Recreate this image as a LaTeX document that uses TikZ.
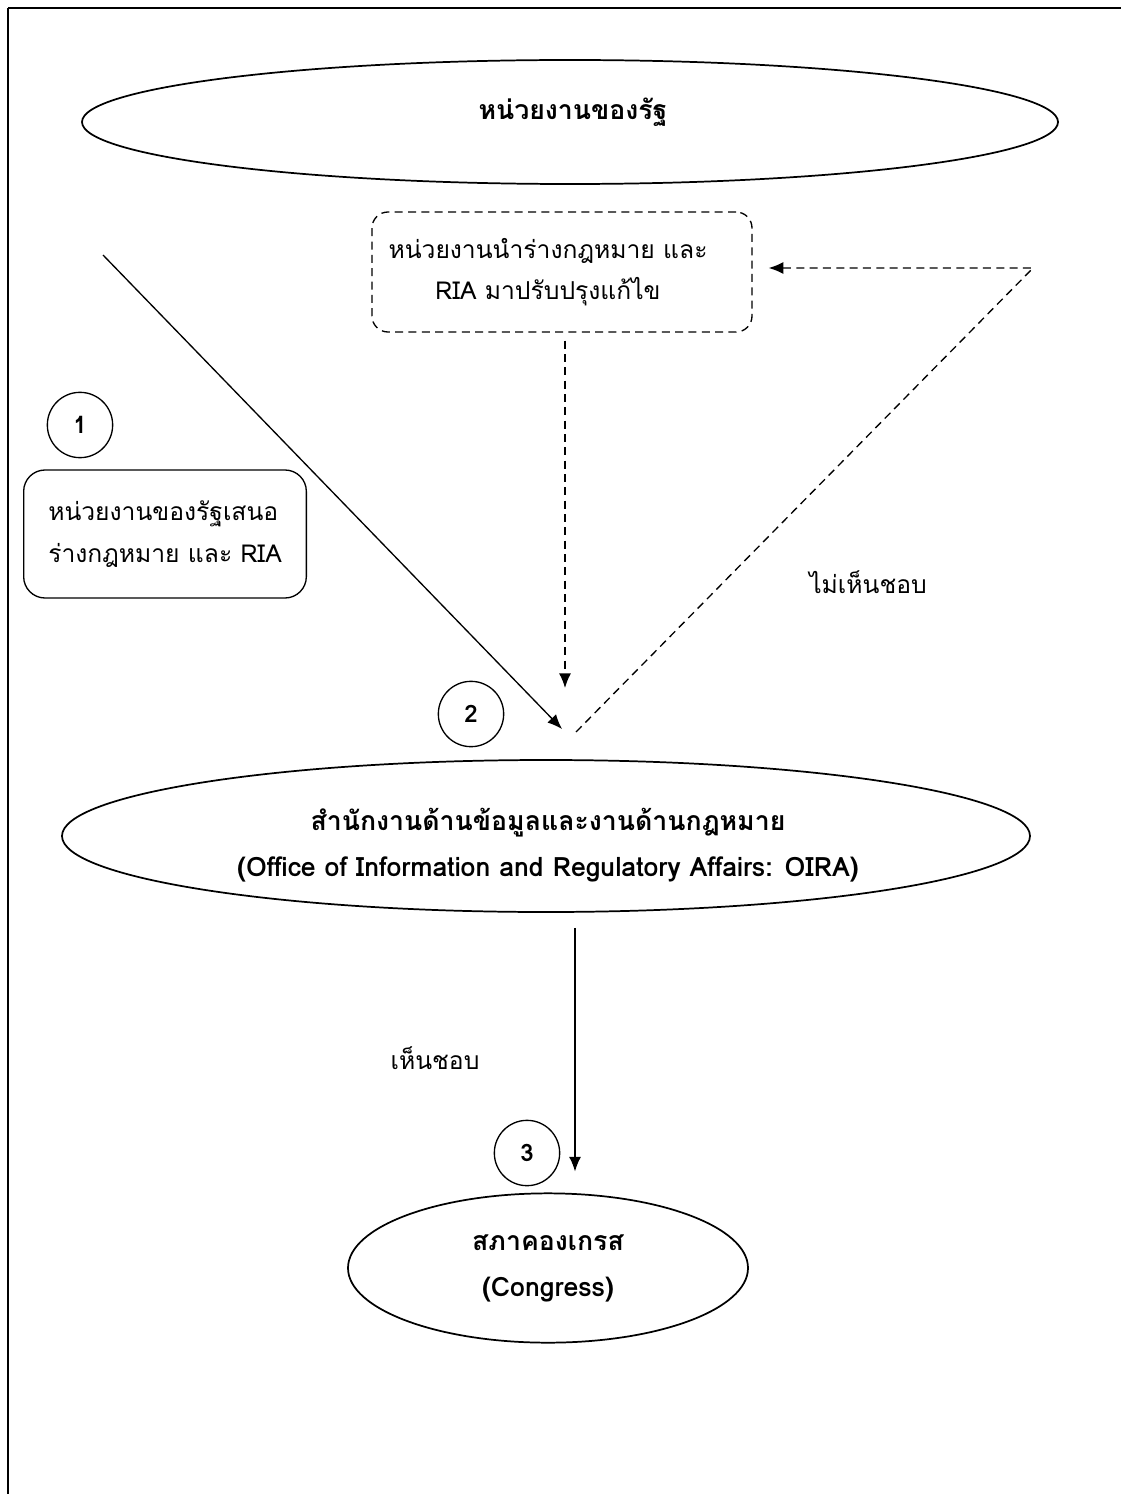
\documentclass[tikz,border=0pt]{standalone}
\usepackage{fontspec}
\setmainfont[Script=Thai]{Loma}
\usetikzlibrary{calc, arrows.meta, shapes.geometric}

\begin{document}
\begin{tikzpicture}[x=.75pt,y=-.75pt,inner sep=.8pt,>={Latex[length=11pt,width=9pt]},line width=1pt]
\tikzset{oval/.style={draw,ellipse,line width=1.3pt},
  ovaltxt/.style={align=center,font=\fontsize{20}{34.5}\selectfont\bfseries},
  numc/.style={draw,circle,minimum size=49pt,font=\fontsize{18}{20}\selectfont\bfseries},
  txt/.style={font=\fontsize{18.5}{31}\selectfont},
  dashline/.style={dash pattern=on 6pt off 4pt}}
\useasboundingbox (0,0) rectangle (1121,1494);
\coordinate (fb) at (8,1494);
\coordinate (fc) at (8,8);
\coordinate (fr) at (1121,8);
\draw [line width=1.3pt] (fb) -- (fc);
\draw [line width=1.3pt] (fc) -- (fr);
\node [oval,minimum width=732pt,minimum height=93pt] (agency) at (570,122) {};
\node [ovaltxt] (agencytxt) at (573,112) {หน่วยงานของรัฐ};
\node [oval,minimum width=726pt,minimum height=114pt] (oira) at (546,836) {};
\node [ovaltxt] (oiratxt) at (548,845) {สำนักงานด้านข้อมูลและงานด้านกฎหมาย\\(Office of Information and Regulatory Affairs: OIRA)};
\node [oval,minimum width=300pt,minimum height=112pt,ovaltxt] (congress) at (548,1268) {สภาคองเกรส\\(Congress)};
\node [draw,dashline,rounded corners=12pt,minimum width=285pt,minimum height=90pt] (revise) at (562,272) {};
\node [align=center,txt] (revisetxt) at (548,272) {หน่วยงานนำร่างกฎหมาย และ\\RIA มาปรับปรุงแก้ไข};
\node [draw,rounded corners=16pt,minimum width=212pt,minimum height=96pt,align=left,txt] (propose) at (165,534) {หน่วยงานของรัฐเสนอ\\ร่างกฎหมาย และ RIA};
\node [numc] (one) at (80,425) {1};
\node [numc] (two) at (471,714) {2};
\node [numc] (three) at (527,1153) {3};
\node [txt] (yes) at (435,1058) {เห็นชอบ};
\node [txt] (no) at (868,582) {ไม่เห็นชอบ};
\coordinate (s1) at (103,255);
\coordinate (e1) at (562,729);
\coordinate (e2) at (565,688);
\coordinate (e3) at (576,732);
\coordinate (c1) at (1033,268);
\draw [->] (s1) -- (e1);
\draw [->,dashline] ($(revise.south)+(3,8)$) -- (e2);
\draw [->,dashline] (e3) -- (c1) -- ($(revise.east)+(16,-4)$);
\draw [->] ($(oira.south)+(29,15)$) -- ($(congress.north)+(27,-21)$);
\end{tikzpicture}
\end{document}
